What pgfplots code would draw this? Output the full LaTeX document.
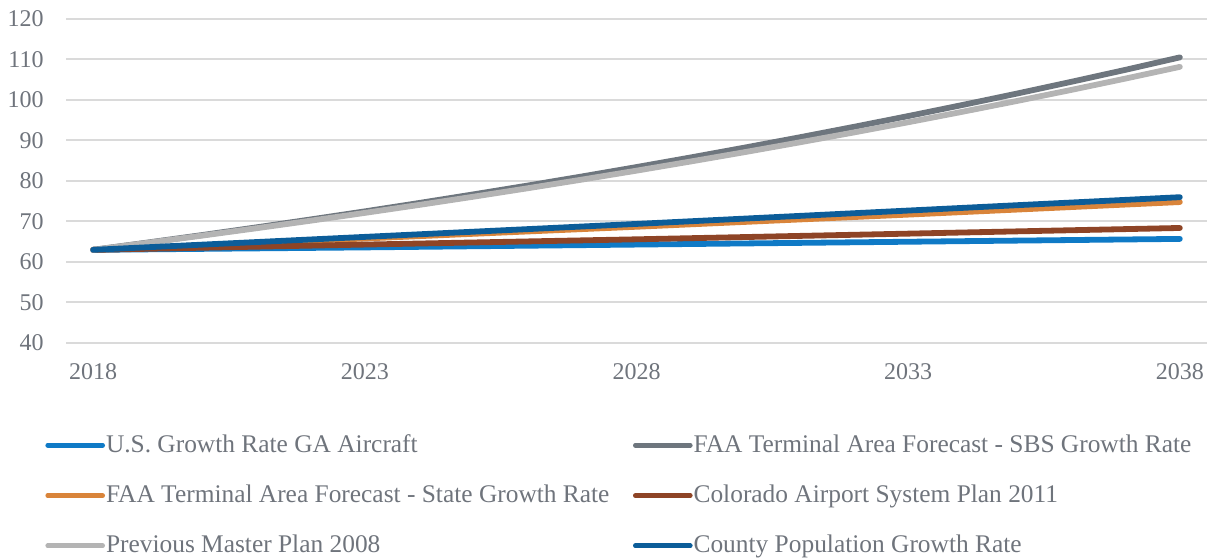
\documentclass[border=0pt]{standalone}
\usepackage{fontspec}
\setmainfont{Liberation Serif}
\usepackage{pgfplots}
\pgfplotsset{compat=1.18}
\definecolor{cUS}{HTML}{0F7AC6}
\definecolor{cSBS}{HTML}{6E767E}
\definecolor{cState}{HTML}{D9843A}
\definecolor{cCol}{HTML}{8E4426}
\definecolor{cPrev}{HTML}{B4B4B4}
\definecolor{cCounty}{HTML}{0C5D99}
\definecolor{txt}{HTML}{6F747C}
\definecolor{gridc}{HTML}{DADADA}
\begin{document}
\begin{tikzpicture}
\fontsize{12pt}{14pt}\selectfont
\useasboundingbox (0,0) rectangle (607pt,280pt);
\begin{axis}[
  at={(33pt,108.5pt)}, anchor=south west,
  scale only axis, width=570.5pt, height=162pt,
  xmin=2017.5, xmax=2038.5, ymin=40, ymax=120,
  xtick={2018,2023,2028,2033,2038},
  ytick={40,50,...,120},
  /pgf/number format/assume math mode=true,
  /pgf/number format/1000 sep={},
  tick label style={font=\fontsize{12pt}{14pt}\selectfont, text=txt},
  yticklabel style={xshift=-7pt},
  xticklabel style={yshift=-6pt},
  major tick length=0pt,
  tick style={draw=none},
  axis line style={draw=none},
  xmajorgrids=false,
  ymajorgrids=true, 
  y grid style={draw=gridc, line width=1pt},
  every axis plot/.append style={line width=2.9pt, line cap=round, line join=round},
  legend columns=2,
  legend cell align=left,
  legend style={at={(-0.0184,-0.278)}, anchor=north west, draw=none, fill=none,
    font=\fontsize{12.7pt}{15pt}\selectfont, text=txt, inner sep=0pt,
    row sep=13.5pt, nodes={inner sep=0.5pt}},
  legend image code/.code={\draw[#1, line width=2.3pt] (0pt,0pt) -- (27.5pt,0pt);},
]
\addplot[cUS] coordinates {(2018,63.0) (2023,63.6) (2028,64.3) (2033,65.0) (2038,65.7)};
\addlegendentry{\makebox[263pt][l]{U.S. Growth Rate GA Aircraft}}
\addplot[cSBS] coordinates {(2018,63.0) (2019,64.80) (2020,66.64) (2021,68.54) (2022,70.50) (2023,72.50) (2024,74.57) (2025,76.70) (2026,78.88) (2027,81.13) (2028,83.44) (2029,85.82) (2030,88.27) (2031,90.78) (2032,93.37) (2033,96.03) (2034,98.77) (2035,101.58) (2036,104.48) (2037,107.45) (2038,110.52)};
\addlegendentry{FAA Terminal Area Forecast - SBS Growth Rate}
\addplot[cState] coordinates {(2018,63.0) (2023,65.8) (2028,68.7) (2033,71.7) (2038,74.8)};
\addlegendentry{\makebox[263pt][l]{FAA Terminal Area Forecast - State Growth Rate}}
\addplot[cCol] coordinates {(2018,63.0) (2023,64.3) (2028,65.6) (2033,67.0) (2038,68.4)};
\addlegendentry{Colorado Airport System Plan 2011}
\addplot[cPrev] coordinates {(2018,63.0) (2019,64.73) (2020,66.50) (2021,68.32) (2022,70.19) (2023,72.12) (2024,74.09) (2025,76.12) (2026,78.21) (2027,80.35) (2028,82.55) (2029,84.82) (2030,87.14) (2031,89.53) (2032,91.98) (2033,94.50) (2034,97.09) (2035,99.75) (2036,102.48) (2037,105.29) (2038,108.18)};
\addlegendentry{\makebox[263pt][l]{Previous Master Plan 2008}}
\addplot[cCounty] coordinates {(2018,63.0) (2023,66.2) (2028,69.4) (2033,72.7) (2038,76.0)};
\addlegendentry{County Population Growth Rate}
\end{axis}
\end{tikzpicture}
\end{document}
